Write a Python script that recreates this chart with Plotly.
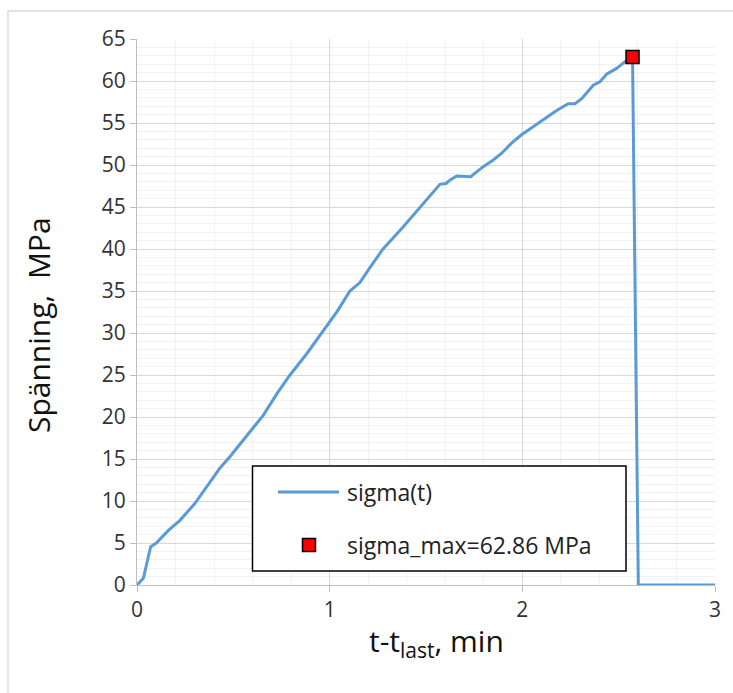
import plotly.graph_objects as go

# ---- data ----
t_min = [0, 0.033, 0.071, 0.10, 0.163, 0.223, 0.30, 0.362, 0.43, 0.483, 0.56, 0.655,
         0.73, 0.794, 0.88, 0.96, 1.04, 1.105, 1.157, 1.215, 1.277, 1.38, 1.469, 1.572,
         1.604, 1.624, 1.659, 1.732, 1.797, 1.849, 1.893, 1.944, 1.996, 2.057, 2.126,
         2.178, 2.238, 2.273, 2.308, 2.368, 2.403, 2.437, 2.489, 2.533, 2.572, 2.602, 3.0]
sigma = [0, 0.8, 4.56, 5.0, 6.5, 7.7, 9.7, 11.7, 13.9, 15.3, 17.5, 20.2,
         22.9, 25.0, 27.5, 30.0, 32.6, 35.0, 36.0, 38.0, 40.0, 42.6, 45.0, 47.7,
         47.8, 48.2, 48.7, 48.6, 49.8, 50.6, 51.4, 52.6, 53.6, 54.6, 55.7,
         56.5, 57.3, 57.3, 57.9, 59.5, 59.9, 60.8, 61.5, 62.3, 62.86, 0, 0]
t_max = [2.572]
sigma_max = [62.86]

line_name = "sigma(t)"
max_name = "sigma_max=62.86 MPa"
x_ticks = [0, 1, 2, 3]
y_ticks = list(range(0, 66, 5))

FONT = "Open Sans"
BLUE = "#5B9BD5"

fig = go.Figure()
fig.add_trace(go.Scatter(x=t_min, y=sigma, mode="lines", name=line_name,
                         line=dict(color=BLUE, width=3), cliponaxis=False))
fig.add_trace(go.Scatter(x=t_max, y=sigma_max, mode="markers", name=max_name,
                         marker=dict(symbol="square", size=13, color="#FF0000",
                                     line=dict(color="black", width=1.5)),
                         cliponaxis=False))

L, R, T, B = 137, 18, 39, 108
W, H = 733, 693
pw, ph = W - L - R, H - T - B

def px(x):
    return (x - L) / pw

def py(y):
    return (H - B - y) / ph

shapes = [
    # outer chart border
    dict(type="rect", xref="paper", yref="paper", x0=px(8), x1=px(760), y0=py(720), y1=py(11),
         line=dict(color="#D9D9D9", width=1.3), layer="below"),
    # legend box
    dict(type="rect", xref="paper", yref="paper", x0=px(252.5), x1=px(626), y0=py(571), y1=py(466),
         line=dict(color="black", width=1.5), fillcolor="white"),
    # legend line sample
    dict(type="line", xref="paper", yref="paper", x0=px(278), x1=px(339), y0=py(492), y1=py(492),
         line=dict(color=BLUE, width=3)),
    # legend marker sample
    dict(type="rect", xref="paper", yref="paper", xsizemode="pixel", ysizemode="pixel",
         xanchor=px(309), yanchor=py(545), x0=-6.5, x1=6.5, y0=-6.5, y1=6.5,
         fillcolor="#FF0000", line=dict(color="black", width=1.5)),
]
annotations = [
    dict(xref="paper", yref="paper", x=px(345), y=py(492), text=line_name, showarrow=False,
         xanchor="left", yanchor="middle", font=dict(family=FONT, size=23, color="#222")),
    dict(xref="paper", yref="paper", x=px(345), y=py(545), text=max_name, showarrow=False,
         xanchor="left", yanchor="middle", font=dict(family=FONT, size=23, color="#222")),
    dict(xref="paper", yref="paper", x=px(38), y=py(325), text="Spänning,  MPa", textangle=-90,
         showarrow=False, xanchor="center", yanchor="middle",
         font=dict(family=FONT, size=30, color="#111")),
    dict(xref="paper", yref="paper", x=px(436), y=py(642), text="t-t<sub>last</sub>, min",
         showarrow=False, xanchor="center", yanchor="middle",
         font=dict(family=FONT, size=30, color="#111")),
]

axis_common = dict(
    showline=True, linecolor="#BFBFBF", linewidth=1.3, mirror=False,
    ticks="outside", ticklen=6, tickcolor="#BFBFBF", tickwidth=1.3,
    gridcolor="#D9D9D9", gridwidth=1.3, zeroline=False,
    tickfont=dict(family=FONT, size=21, color="#333"),
)

fig.update_layout(
    width=W, height=H, margin=dict(l=L, r=R, t=T, b=B, autoexpand=False),
    paper_bgcolor="white", plot_bgcolor="white", showlegend=False,
    shapes=shapes, annotations=annotations,
    xaxis=dict(range=[0, 3], tickvals=x_ticks, ticktext=[str(v) for v in x_ticks],
               minor=dict(dtick=0.2, showgrid=True, gridcolor="#F2F2F2", gridwidth=1.3),
               **axis_common),
    yaxis=dict(range=[0, 65], tickvals=y_ticks, ticktext=[str(v) for v in y_ticks],
               minor=dict(dtick=1, showgrid=True, gridcolor="#F2F2F2", gridwidth=1.3),
               **axis_common),
)

fig.write_html("out.html")
